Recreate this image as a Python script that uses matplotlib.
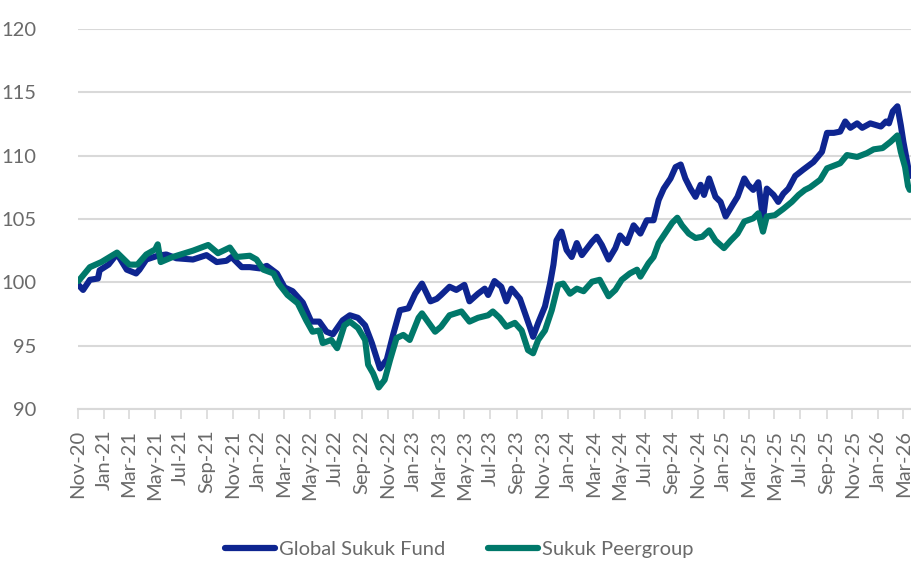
import pandas as pd
import numpy as np
import matplotlib
matplotlib.use('Agg')
import matplotlib.pyplot as plt
import matplotlib.dates as mdates

# Global Sukuk Fund
fund_dates = ['2020-11-02', '2020-11-13', '2020-11-29', '2020-12-18', '2020-12-22', '2021-01-12',
              '2021-02-01', '2021-02-24', '2021-03-18', '2021-03-26', '2021-04-11', '2021-05-08',
              '2021-05-28', '2021-06-21', '2021-07-30', '2021-08-31', '2021-09-24', '2021-10-17',
              '2021-10-29', '2021-11-22', '2021-12-11', '2022-01-04', '2022-01-20', '2022-02-13',
              '2022-03-03', '2022-03-22', '2022-04-15', '2022-05-05', '2022-05-24', '2022-06-10',
              '2022-06-25', '2022-07-18', '2022-08-04', '2022-08-23', '2022-09-09', '2022-09-25',
              '2022-10-14', '2022-10-30', '2022-11-15', '2022-11-30', '2022-12-20', '2023-01-05',
              '2023-01-21', '2023-02-10', '2023-02-25', '2023-03-07', '2023-03-27', '2023-04-12',
              '2023-05-01', '2023-05-13', '2023-06-02', '2023-06-18', '2023-06-26', '2023-07-11',
              '2023-07-27', '2023-08-08', '2023-08-20', '2023-09-09', '2023-09-21', '2023-10-02',
              '2023-10-10', '2023-10-22', '2023-11-07', '2023-11-19', '2023-11-27', '2023-12-04',
              '2023-12-16', '2023-12-28', '2024-01-09', '2024-01-21', '2024-02-02', '2024-02-26',
              '2024-03-08', '2024-03-20', '2024-04-05', '2024-04-21', '2024-05-02', '2024-05-18',
              '2024-06-03', '2024-06-19', '2024-07-04', '2024-07-20', '2024-08-01', '2024-08-13',
              '2024-08-29', '2024-09-10', '2024-09-22', '2024-10-03', '2024-10-15', '2024-10-27',
              '2024-11-08', '2024-11-16', '2024-11-28', '2024-12-13', '2024-12-25', '2025-01-06',
              '2025-01-22', '2025-02-03', '2025-02-19', '2025-02-28', '2025-03-12', '2025-03-24',
              '2025-04-04', '2025-04-13', '2025-04-29', '2025-05-10', '2025-05-22', '2025-06-03',
              '2025-06-19', '2025-07-08', '2025-08-01', '2025-08-21', '2025-09-02', '2025-09-18',
              '2025-10-03', '2025-10-15', '2025-10-27', '2025-11-12', '2025-11-24', '2025-12-13',
              '2026-01-07', '2026-01-19', '2026-01-26', '2026-02-04', '2026-02-15', '2026-02-23',
              '2026-03-01', '2026-03-12', '2026-03-16']
fund_values = [99.8, 99.4, 100.2, 100.3, 100.95, 101.4,
               102.25, 101.0, 100.7, 101.0, 101.8, 102.1,
               102.2, 101.9, 101.8, 102.15, 101.6, 101.7,
               102.0, 101.2, 101.2, 101.1, 101.3, 100.7,
               99.6, 99.3, 98.4, 96.9, 96.9, 96.1,
               95.9, 97.0, 97.4, 97.2, 96.6, 95.2,
               93.2, 93.9, 96.0, 97.8, 97.95, 99.1,
               99.9, 98.5, 98.7, 99.0, 99.65, 99.4,
               99.8, 98.5, 99.1, 99.5, 99.0, 100.1,
               99.65, 98.5, 99.5, 98.7, 97.55, 96.5,
               95.7, 96.8, 98.1, 99.9, 101.4, 103.3,
               104.0, 102.55, 102.0, 103.1, 102.15, 103.2,
               103.6, 102.95, 101.8, 102.7, 103.7, 103.1,
               104.5, 103.85, 104.9, 104.9, 106.5, 107.4,
               108.2, 109.1, 109.3, 108.2, 107.4, 106.75,
               107.7, 106.9, 108.2, 106.75, 106.35, 105.2,
               106.1, 106.75, 108.2, 107.7, 107.3, 107.9,
               105.0, 107.4, 106.9, 106.35, 107.0, 107.4,
               108.4, 108.9, 109.5, 110.3, 111.8, 111.8,
               111.9, 112.7, 112.2, 112.55, 112.2, 112.55,
               112.3, 112.7, 112.55, 113.5, 113.9, 112.4,
               111.1, 109.1, 108.4]

# Sukuk Peergroup
peer_dates = ['2020-11-02', '2020-11-29', '2020-12-26', '2021-02-01', '2021-03-02', '2021-03-21',
              '2021-04-11', '2021-05-02', '2021-05-08', '2021-05-15', '2021-06-12', '2021-07-30',
              '2021-09-04', '2021-09-27', '2021-10-25', '2021-11-10', '2021-12-11', '2021-12-27',
              '2022-01-12', '2022-02-05', '2022-02-17', '2022-03-10', '2022-04-03', '2022-04-23',
              '2022-05-08', '2022-05-24', '2022-06-01', '2022-06-21', '2022-07-05', '2022-07-22',
              '2022-08-04', '2022-08-23', '2022-09-09', '2022-09-16', '2022-09-28', '2022-10-11',
              '2022-10-25', '2022-11-07', '2022-11-22', '2022-12-08', '2022-12-23', '2023-01-13',
              '2023-01-21', '2023-02-06', '2023-02-21', '2023-03-07', '2023-03-27', '2023-04-24',
              '2023-05-13', '2023-06-02', '2023-06-26', '2023-07-07', '2023-07-23', '2023-08-08',
              '2023-08-28', '2023-09-13', '2023-09-28', '2023-10-10', '2023-10-22', '2023-11-07',
              '2023-11-23', '2023-12-08', '2023-12-20', '2024-01-05', '2024-01-21', '2024-02-06',
              '2024-02-26', '2024-03-15', '2024-04-05', '2024-04-21', '2024-05-06', '2024-05-25',
              '2024-06-11', '2024-06-19', '2024-07-08', '2024-07-20', '2024-08-01', '2024-08-16',
              '2024-09-02', '2024-09-14', '2024-09-25', '2024-10-11', '2024-10-27', '2024-11-12',
              '2024-11-28', '2024-12-13', '2025-01-02', '2025-01-18', '2025-02-03', '2025-02-19',
              '2025-03-12', '2025-03-24', '2025-04-04', '2025-04-13', '2025-05-02', '2025-05-22',
              '2025-06-11', '2025-06-27', '2025-07-12', '2025-07-24', '2025-08-17', '2025-09-02',
              '2025-10-03', '2025-10-19', '2025-11-12', '2025-12-05', '2025-12-21', '2026-01-11',
              '2026-01-30', '2026-02-15', '2026-02-23', '2026-03-05', '2026-03-12', '2026-03-16']
peer_values = [100.1, 101.2, 101.6, 102.35, 101.4, 101.4,
               102.2, 102.6, 103.0, 101.6, 102.0, 102.5,
               102.95, 102.3, 102.75, 102.0, 102.1, 101.8,
               101.0, 100.7, 99.9, 99.0, 98.35, 97.0,
               96.1, 96.2, 95.2, 95.45, 94.8, 96.6,
               96.9, 96.4, 95.45, 93.5, 92.8, 91.7,
               92.3, 93.9, 95.6, 95.85, 95.45, 97.2,
               97.55, 96.8, 96.1, 96.5, 97.4, 97.7,
               96.9, 97.2, 97.4, 97.7, 97.2, 96.5,
               96.8, 96.2, 94.65, 94.4, 95.45, 96.2,
               97.8, 99.8, 99.9, 99.1, 99.5, 99.3,
               100.05, 100.2, 98.9, 99.4, 100.2, 100.7,
               101.0, 100.45, 101.5, 102.0, 103.1, 103.85,
               104.7, 105.1, 104.5, 103.85, 103.5, 103.6,
               104.1, 103.3, 102.7, 103.3, 103.85, 104.8,
               105.05, 105.45, 104.0, 105.2, 105.3, 105.8,
               106.35, 106.9, 107.3, 107.5, 108.1, 109.0,
               109.4, 110.05, 109.9, 110.2, 110.5, 110.6,
               111.1, 111.6, 110.3, 109.1, 107.6, 107.3]

y_ticks = [90, 95, 100, 105, 110, 115, 120]

blue = '#0E2590'
green = '#00786A'
grey_text = '#6A6A6A'
grid_col = '#D9D9D9'

plt.rcParams['font.family'] = ['Lato', 'DejaVu Sans']

fig = plt.figure(figsize=(9.11, 5.63), dpi=100)
ax = fig.add_axes([78 / 911, 1 - 409 / 563, 1 - 78 / 911, (409 - 29) / 563])

ax.plot(pd.to_datetime(fund_dates), fund_values, color=blue, lw=4.4,
        solid_joinstyle='round', solid_capstyle='round', label='Global Sukuk Fund', zorder=3)
ax.plot(pd.to_datetime(peer_dates), peer_values, color=green, lw=4.4,
        solid_joinstyle='round', solid_capstyle='round', label='Sukuk Peergroup', zorder=4)

ax.set_ylim(90, 120)
ax.set_yticks(y_ticks)
ax.set_xlim(pd.Timestamp('2020-11-01'), pd.Timestamp('2026-03-19'))
ax.xaxis.set_major_locator(mdates.MonthLocator(bymonth=(1, 3, 5, 7, 9, 11)))
ax.xaxis.set_major_formatter(mdates.DateFormatter('%b-%y'))

ax.grid(axis='y', color=grid_col, lw=1.5, zorder=0)
ax.set_axisbelow(True)
for s in ['left', 'right', 'top']:
    ax.spines[s].set_visible(False)
ax.spines['bottom'].set_color(grid_col)
ax.spines['bottom'].set_linewidth(1.5)

ax.tick_params(axis='y', length=0, pad=30, labelsize=14.5, labelcolor=grey_text)
ax.tick_params(axis='x', length=7, width=1.2, color=grid_col, pad=8,
               labelsize=14.5, labelcolor=grey_text, labelrotation=90)

leg = fig.legend(loc='center', bbox_to_anchor=(0.504, 1 - 549 / 563), ncol=2, frameon=False,
                 fontsize=14.5, handlelength=2.5, handletextpad=0.2, columnspacing=2.1)
for t in leg.get_texts():
    t.set_color(grey_text)
for h in leg.get_lines():
    h.set_linewidth(4.5)
    h.set_solid_capstyle('round')

fig.savefig('out.png', dpi=100)
